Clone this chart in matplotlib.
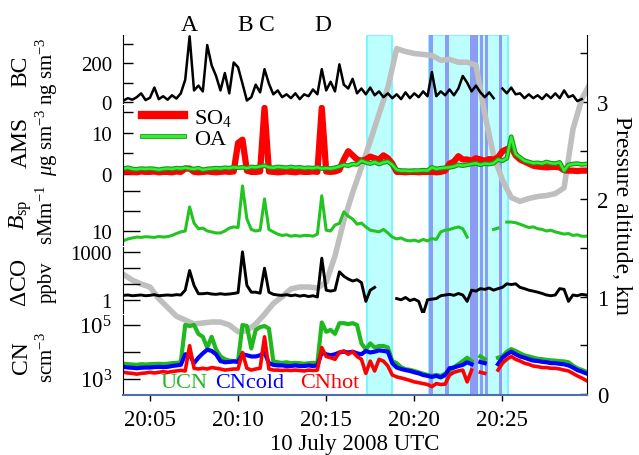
import numpy as np
import matplotlib.pyplot as plt
import matplotlib.patheffects as pe
from matplotlib.lines import Line2D
from matplotlib.ticker import FuncFormatter, NullLocator

plt.rcParams['font.family'] = ['Liberation Serif', 'DejaVu Serif']
plt.rcParams['mathtext.fontset'] = 'custom'
plt.rcParams['mathtext.rm'] = 'Liberation Serif'
plt.rcParams['mathtext.it'] = 'Liberation Serif:italic'

nan = np.nan

# 15 s samples, minutes after 20:00 UTC (20:03:30 .. 20:29:45)
minutes = 3.5 + 0.25 * np.arange(106)

bc = [8, 20,
      12, 25, 45, 10,   22, 75, 15, 30,   12, 35, 18, 45,   115, 340, 60, 85,
      55, 295, 190, 135,   60, 150, 45, 205,   180, 95, 8, 25,   90, 50, 170, 95,
      40, 60, 25, 40,   20, 45, 15, 40,   30, 65, 40, 170,   60, 105, 55, 195,
      90, 70, 120, 45,   70, 40, 75, 35,   55, 25, 45, 20,   40, 15, 50, 20,
      45, 25, 55, 30,   155, 30, 55, 35,   65, 35, 70, 135,   100, 55, 85, 50,
      25, 50, 20, nan,   70, 45, 75, 40,   45, 20, 40, 20,   35, 15, 40, 20,
      45, 20, 60, 25,   35, 5, 15, nan]

so4 = [0.5, 0.6,
       0.5, 0.4, 0.6, 0.5,   0.5, 0.6, 0.4, 0.5,   0.5, 0.4, 0.6, 0.5,   1.3, 1.3, 0.5, 0.4,
       0.5, 0.6, 0.5, 0.4,   0.5, 0.6, 0.5, 0.6,   7.5, 8.3, 0.8, 0.5,   0.5, 0.6, 16.0, 0.6,
       0.5, 0.4, 0.5, 0.6,   0.5, 0.4, 0.6, 0.5,   0.5, 0.6, 0.5, 16.0,  0.6, 0.5, 0.6, 1.0,
       3.5, 5.5, 4.5, 3.5,   3.2, 3.5, 4.2, 3.8,   3.5, 4.5, 3.8, 2.5,   0.5, 0.5, 0.4, 0.5,
       0.5, 0.4, 0.5, 0.5,   0.5, 0.4, 0.5, 0.8,   2.5, 3.0, 4.3, 3.5,   3.5, 3.2, 3.8, 3.5,
       3.2, 3.6, 3.5, 4.0,   5.5, 6.0, 6.5, 4.5,   3.5, 3.0, 2.5, 2.0,   1.8, 1.7, 1.6, 1.7,
       1.7, 1.6, 0.9, 0.8,   0.8, 0.7, 0.8, 0.8]

oa = [1.3, 1.5,
      1.2, 1.1, 1.3, 1.2,   1.3, 1.2, 1.0, 1.2,   1.3, 1.2, 1.4, 1.3,   1.5, 1.3, 1.2, 1.4,
      1.0, 1.2, 1.3, 1.4,   1.3, 1.5, 1.4, 1.6,   1.5, 1.6, 1.4, 1.7,   1.6, 1.8, 2.0, 1.6,
      1.5, 1.7, 1.6, 1.5,   1.7, 1.5, 1.6, 1.4,   1.5, 1.4, 1.6, 1.3,   1.4, 1.3, 1.5, 1.8,
      2.2, 2.0, 2.4, 2.3,   3.2, 2.8, 2.5, 2.9,   2.4, 2.8, 3.0, 2.2,   1.0, 0.8, 0.8, 0.7,
      0.8, 0.8, 0.9, 0.8,   1.6, 1.2, 1.4, 1.5,   1.6, 1.8, 2.2, 2.0,   2.2, 2.4, 2.6, 2.2,
      2.5, 2.4, 2.6, 3.5,   3.2, 3.8, 9.0, 4.8,   4.0, 3.2, 2.9, 2.6,   2.7, 2.5, 2.9, 2.6,
      2.5, 2.8, 0.8, 2.2,   2.4, 2.5, 2.3, 2.4]

bsp = [3.3, 4.0,
       4.5, 5.0, 4.8, 5.2,   5.0, 4.8, 5.3, 5.0,   5.2, 6.0, 7.5, 9.0,   10, 160, 25, 13,
       14, 10, 9, 8,   8, 10, 14, 16,   15, 1800, 40, 12,   10, 11, 400, 12,
       9, 7, 6, 6.5,   5.5, 6, 5.5, 6,   6, 5.5, 7, 580,   11, 10, 20, 24,
       90, 55, 40, 22,   25, 16, 11, 10,   9, 12, 8, 5,   4, 4.5, 3.5, 3.2,
       3.5, 3.0, 3.8, 3.2,   4.2, 3.8, 9, 11,   12, 14, 16, 13,   5, nan, nan, 16,
       nan, nan, 12, 14,   nan, 28, 28, 26,   22, 18, 15, 16,   13, 12, 10, 11,
       9, 8, 7, 7.5,   6, 6.5, 5.5, 5.5]

dco = [1.9, 2.0,
       1.8, 1.9, 2.0, 1.8,   1.9, 2.1, 1.8, 1.9,   2.0, 1.9, 2.1, 2.0,   4, 68, 8, 2.4,
       2.4, 2.6, 2.3, 2.2,   2.4, 2.2, 2.3, 2.5,   2.8, 1000, 8, 3,   3, 2.6, 95, 3,
       2.2, 2.0, 1.9, 2.1,   1.8, 2.0, 1.7, 1.9,   1.6, 1.8, 1.5, 400,   4, 3.5, 4, 56,
       30, 20, 15, 18,   12, 0.8, 4, 6,   nan, nan, nan, nan,   1.2, 1.0, 1.4, 0.9,
       1.1, 0.8, 0.13, 1.0,   1.1, 1.2, 1.8, 2.0,   2.2, 1.9, 2.5, 2.0,   0.8, 4.0, 3.5, 5.0,
       4.5, 5.5, 4.0, 5.0,   6.0, 10, 9, 10,   6, 5, 4, 3.5,   3, 2.5, 2, 1.8,
       2.0, 5.0, 4.5, 0.8,   2.0, 1.8, 2.2, 2.0]

ucn = [3500, 3400,
       3300, 3200, 3400, 3300,   3400, 3450, 3500, 3450,   3500, 3700, 3800, 4000,
       96000, 88000, 96000, 45000,   35000, 14000, 35000, 12000,   6600, 5200, 4600, 4400,
       4600, 96000, 88000, 13000,   63000, 80000, 88000, 71000,   4300, 4000, 3800, 4000,
       3700, 3800, 3700, 3500,   3700, 3800, 3700, 119000,   54000, 63000, 45000, 112000,
       112000, 104000, 112000, 96000,   20000, 12000, 20000, 14000,   16000, 16000, 14000, 4400,
       3700, 2600, 2200, 2100,   1900, 1700, 1500, 1350,   1250, 1350, 1250, 1500,
       1900, 2600, 3400, 4400,   5900, 4400, nan, 6600,   5200, nan, nan, 5900,
       6600, 9800, 12300, 10500,   8600, 7200, 6600, 5900,   5400, 5200, 4900, 4700,
       4600, 4400, 4300, 4000,   3000, 2400, 2100, 1800]

cn_cold = [2700, 2550,
           2500, 2400, 2500, 2550,   2550, 2650, 2700, 2650,   2700, 2900, 3050, 3200,
           7900, 7650, 3700, 5900,   8550, 11700, 10500, 7900,   4400, 4000, 4100, 4300,
           4100, 7900, 7250, 6550,   6550, 7250, 9200, 3700,   3200, 3050, 3050, 2900,
           2900, 3050, 2900, 2900,   3050, 2900, 3050, 9200,   7900, 7250, 7900, 9200,
           9850, 9200, 9850, 8550,   7900, 10500, 9200, 9850,   11000, 10500, 9850, 3700,
           2550, 2250, 2050, 1900,   1700, 1550, 1350, 1250,   1150, 1250, 1100, 1350,
           2400, 2550, 2900, 3200,   4000, 3400, nan, 4100,   3700, nan, nan, 3400,
           5900, 7900, 9850, 7900,   6550, 5900, 5150, 4600,   4450, 4150, 4000, 3700,
           3700, 3500, 3350, 3050,   2550, 2050, 1800, 1550]

cn_hot = [1700, 1600,
          1550, 1450, 1550, 1600,   1700, 1600, 1700, 1800,   1700, 1800, 1900, 2000,
          1900, 16400, 2400, 2250,   2400, 2250, 2550, 2400,   2250, 2050, 2150, 2250,
          2250, 9200, 2400, 2050,   2250, 2400, 35000, 2250,   2050, 2050, 1980, 2050,
          1980, 2050, 1980, 1900,   2050, 1980, 2050, 14000,   6550, 5900, 5150, 9200,
          10500, 7900, 9850, 6550,   5150, 1550, 4400, 1900,   5150, 4400, 2900, 1350,
          1150, 1050, 950, 850,   750, 700, 650, 600,   500, 650, 600, 620,
          1350, 1700, 1900, 2050,   750, 2050, nan, 1700,   1550, nan, nan, 2050,
          3700, 5150, 6550, 5150,   4450, 3700, 3350, 2900,   2750, 2550, 2550, 2400,
          2400, 2250, 2050, 1900,   1550, 1250, 1050, 850]

# pressure altitude, 30 s samples
alt_minutes = 3.5 + 0.5 * np.arange(54)
alt_km = [1.23, 1.17, 1.13, 1.10, 0.98, 0.89, 0.80, 0.76, 0.72, 0.73, 0.74, 0.74,
          0.71, 0.64, 0.65, 0.72, 0.82, 0.93, 1.00, 1.08, 1.10, 1.10, 1.09, 1.15,
          1.42, 1.78, 2.07, 2.33, 2.60, 2.88, 3.15, 3.55, 3.52, 3.50, 3.49, 3.48,
          3.43, 3.44, 3.41, 3.41, 3.38, 2.88, 2.45, 2.20, 2.02, 1.98, 2.01, 2.03,
          2.04, 2.06, 2.12, 2.72, 3.03, 3.20]

# sampling periods (minutes after 20:00)
cyan_spans = [(17.30, 18.75), (20.83, 25.30)]
blue_spans = [(20.83, 21.08), (21.74, 21.99), (23.16, 23.63),
              (23.75, 23.88), (24.01, 24.17), (24.82, 24.99)]

plumes = ['A', 'B', 'C', 'D']
plume_minutes = [7.22, 10.42, 11.62, 14.8]

xmin, xmax = 3.47, 29.8

fig = plt.figure(figsize=(6.39, 4.56), dpi=100)


def rect(top, bottom):
    return [123 / 639, 1 - bottom / 456, 464 / 639, (bottom - top) / 456]


# background axis: shading and altitude
ax_alt = fig.add_axes(rect(36, 396))
for a, b in cyan_spans:
    ax_alt.axvspan(a, b, facecolor='#bdffff', edgecolor='#7ff5ff', lw=1.5, zorder=0)
for a, b in blue_spans:
    ax_alt.axvspan(a, b, facecolor='#8c9cf5', edgecolor='none', zorder=1)
ax_alt.plot(alt_minutes, alt_km, color='#bfbfbf', lw=4, solid_capstyle='round', zorder=2)
ax_alt.set_xlim(xmin, xmax)
ax_alt.set_ylim(-0.01, 3.69)
for s in ['left', 'top', 'bottom']:
    ax_alt.spines[s].set_visible(False)
ax_alt.yaxis.tick_right()
ax_alt.yaxis.set_label_position('right')
ax_alt.set_yticks([0, 1, 2, 3])
ax_alt.set_yticks([0.5, 1.5, 2.5, 3.5], minor=True)
ax_alt.tick_params(axis='y', which='both', direction='in', length=5, width=1,
                   labelsize=16.5, pad=7)
ax_alt.tick_params(axis='x', bottom=False, labelbottom=False)
ax_alt.set_ylabel('Pressure altitude, km', rotation=270, fontsize=17, labelpad=17)


def panel(top, bottom, log=False):
    ax = fig.add_axes(rect(top, bottom), sharex=ax_alt)
    ax.patch.set_visible(False)
    ax.set_zorder(3)
    for s in ['right', 'top', 'bottom']:
        ax.spines[s].set_visible(False)
    if log:
        ax.set_yscale('log')
    ax.yaxis.set_minor_locator(NullLocator())
    ax.tick_params(axis='x', bottom=False, labelbottom=False)
    ax.tick_params(axis='y', direction='in', width=1, labelsize=15, pad=8)
    return ax


ax_bc = panel(36, 104)
ax_ams = panel(106, 177)
ax_bsp = panel(178, 246, log=True)
ax_co = panel(248, 314, log=True)
ax_cn = panel(316, 396, log=True)

# BC
ax_bc.plot(minutes, bc, color='black', lw=1.8)
ax_bc.set_ylim(-5, 347)
ax_bc.set_yticks([0, 100, 200, 300], ['0', '', '200', ''])
ax_bc.tick_params(axis='y', length=7)
for name, m in zip(plumes, plume_minutes):
    ax_bc.text(m, 1.0, name, transform=ax_bc.get_xaxis_transform(),
               ha='center', va='bottom', fontsize=17)

# AMS
ax_ams.plot(minutes, so4, color='#ff0000', lw=4.5, solid_joinstyle='round')
oa_fx = [pe.Stroke(linewidth=3.4, foreground='#119911'), pe.Normal()]
ax_ams.plot(minutes, oa, color='#33ee33', lw=1.8, path_effects=oa_fx)
ax_ams.set_ylim(-0.5, 16.7)
ax_ams.set_yticks([0, 5, 10, 15], ['0', '', '10', ''])
ax_ams.tick_params(axis='y', length=7)
handles = [Line2D([], [], color='#ff0000', lw=6),
           Line2D([], [], color='#33ee33', lw=2.2, path_effects=oa_fx)]
ax_ams.legend(handles, ['SO$_4$', 'OA'], loc='upper left', bbox_to_anchor=(0.04, 0.97),
              frameon=False, fontsize=16, handlelength=1.9, handletextpad=0.45,
              labelspacing=0.0, borderpad=0, borderaxespad=0)

# scattering
ax_bsp.plot(minutes, bsp, color='#22c422', lw=2.2)
ax_bsp.set_ylim(2, 5000)
ax_bsp.set_yticks([10, 100, 1000], ['10', '', ''])
ax_bsp.tick_params(axis='y', length=12)

# CO
ax_co.plot(minutes, dco, color='black', lw=2.1)
ax_co.set_ylim(0.15, 2000)
ax_co.set_yticks([1, 10, 100, 1000], ['1', '', '', '1000'])
ax_co.tick_params(axis='y', length=12)

# CN
ax_cn.plot(minutes, ucn, color='#1fb81f', lw=3)
ax_cn.plot(minutes, cn_cold, color='#0000ff', lw=3)
ax_cn.plot(minutes, cn_hot, color='#ff0000', lw=2.6)
ax_cn.set_ylim(245, 2.25e5)
ax_cn.set_yticks([1e3, 1e4, 1e5], ['$10^3$', '', '$10^5$'])
ax_cn.tick_params(axis='y', length=12, labelsize=16.5)
ax_cn.spines['bottom'].set_visible(True)
ax_cn.spines['bottom'].set_color('#4f6fa8')
ax_cn.spines['bottom'].set_linewidth(1.5)
ax_cn.set_xticks([5, 10, 15, 20, 25])
ax_cn.xaxis.set_major_formatter(FuncFormatter(lambda v, p: '20:%02d' % v))
ax_cn.tick_params(axis='x', bottom=True, labelbottom=True, direction='out',
                  length=4, width=1, labelsize=16.5, pad=6)
ax_cn.set_xlabel('10 July 2008 UTC', fontsize=16.5)
ax_cn.xaxis.set_label_coords(0.5, -0.47)
for txt, col, xf in [('UCN', '#1fb81f', 0.08), ('CNcold', '#0000ff', 0.198),
                     ('CNhot', '#ff0000', 0.381)]:
    ax_cn.text(xf, 0.15, txt, color=col, transform=ax_cn.transAxes,
               ha='left', va='center', fontsize=16)

ax_cn.set_xlim(xmin, xmax)

# left axis titles, two lines each
ylabels = [('BC', 'ng sm$^{-3}$', 71),
           ('AMS', '$\\mu$g sm$^{-3}$', 142),
           ('$B_{\\mathrm{sp}}$', 'sMm$^{-1}$', 215),
           ('$\\Delta$CO', 'ppbv', 282),
           ('CN', 'scm$^{-3}$', 358)]
for first, second, yc in ylabels:
    fig.text(21 / 639, 1 - yc / 456, first, rotation=90, ha='center', va='center',
             fontsize=17)
    fig.text(47 / 639, 1 - yc / 456, second, rotation=90, ha='center', va='center',
             fontsize=15)

fig.savefig('out.png', dpi=100)
